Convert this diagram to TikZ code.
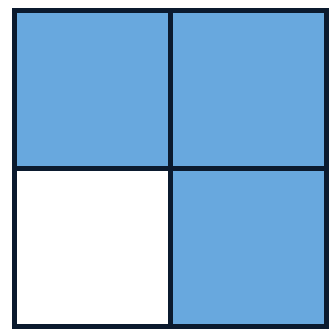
\documentclass[tikz,border=0pt]{standalone}
\usepackage{tikz}
\usetikzlibrary{positioning}
\definecolor{cellblue}{HTML}{68A8DE}
\definecolor{gridnavy}{HTML}{0B1A2E}

\begin{document}
\begin{tikzpicture}[
    x=1pt, y=1pt,
    cell/.style={draw=gridnavy, line width=5pt, minimum width=156pt,
                 minimum height=158pt, inner sep=0pt, outer sep=0pt,
                 anchor=center},
    full/.style={cell, fill=cellblue},
    empty/.style={cell, fill=white}
  ]
    \useasboundingbox (0,0) rectangle (329,332);
    % top row
    \node[full]  (TL) at (92, 242) {};
    \node[full]  (TR) at (248, 242) {};
    % bottom row
    \node[empty] (BL) at (92, 84) {};
    \node[full]  (BR) at (248, 84) {};
  \end{tikzpicture}
\end{document}
